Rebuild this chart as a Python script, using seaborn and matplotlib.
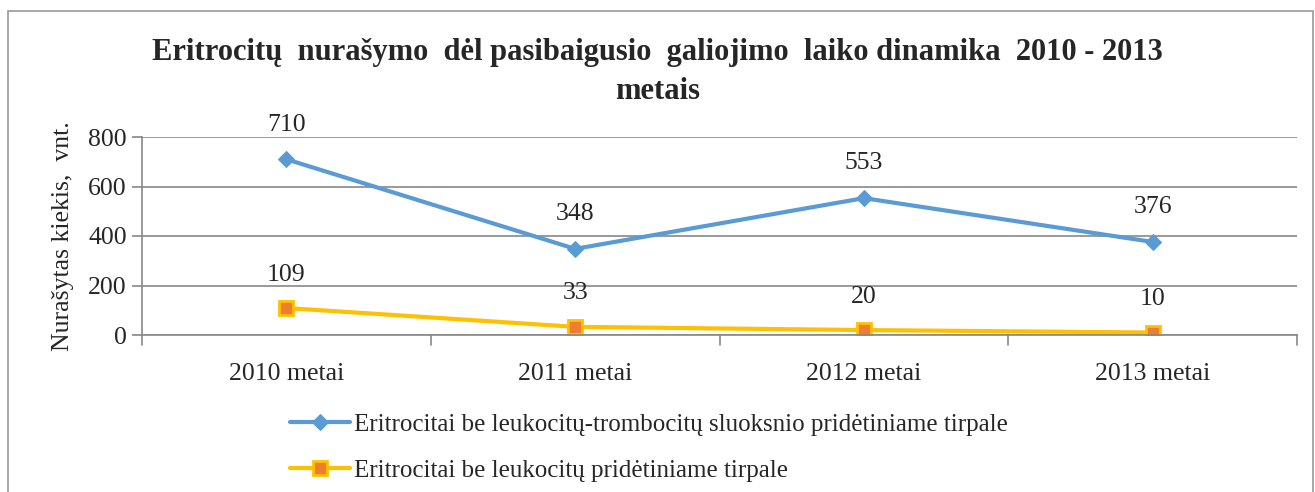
import matplotlib
matplotlib.use("Agg")
import matplotlib.pyplot as plt
import seaborn as sns
import pandas as pd
from matplotlib.patches import Rectangle

categories = ["2010 metai", "2011 metai", "2012 metai", "2013 metai"]
series1_name = "Eritrocitai be leukocitų-trombocitų sluoksnio pridėtiniame tirpale"
series2_name = "Eritrocitai be leukocitų pridėtiniame tirpale"
series1 = [710, 348, 553, 376]
series2 = [109, 33, 20, 10]
yticks = [0, 200, 400, 600, 800]
title = "Eritrocitų  nurašymo  dėl pasibaigusio  galiojimo  laiko dinamika  2010 - 2013\nmetais"
ylabel = "Nurašytas kiekis,  vnt."

sns.set_theme(style="white")
plt.rcParams['font.family'] = ['Liberation Serif', 'DejaVu Serif']

df = pd.DataFrame({
    "x": list(range(len(categories))) * 2,
    "value": series1 + series2,
    "series": [series1_name] * 4 + [series2_name] * 4,
})

fig = plt.figure(figsize=(13.15, 4.92), dpi=100)
ax = fig.add_axes([142/1315, 1 - 335/492, (1297-142)/1315, (335-137)/492])

blue = "#5B9BD5"
yellow = "#FFC000"
orange = "#ED7D31"
fs = 18.5

sns.lineplot(data=df[df.series == series1_name], x="x", y="value", ax=ax,
             color=blue, lw=3, marker="D", markersize=8, markeredgecolor=blue,
             label=series1_name)
sns.lineplot(data=df[df.series == series2_name], x="x", y="value", ax=ax,
             color=yellow, lw=3, marker="s", markersize=10, markerfacecolor=orange,
             markeredgecolor=yellow, markeredgewidth=2, label=series2_name)

for i, v in enumerate(series1):
    ax.annotate(str(v), (i, v), xytext=(0, 25), textcoords="offset points",
                ha="center", va="center", fontsize=fs)
for i, v in enumerate(series2):
    ax.annotate(str(v), (i, v), xytext=(0, 24), textcoords="offset points",
                ha="center", va="center", fontsize=fs)

ax.set_xlim(-0.5, 3.5)
ax.set_ylim(0, 800)
ax.set_yticks(yticks)
ax.set_yticklabels([str(t) for t in yticks], fontsize=fs)
ax.set_xticks(range(len(categories)))
ax.set_xticklabels(categories, fontsize=fs)
ax.tick_params(axis="x", length=0, pad=20)
ax.tick_params(axis="y", length=7, width=1.2, color="#888888", left=True, pad=4)
for b in [-0.5, 0.5, 1.5, 2.5, 3.5]:
    ax.plot([b, b], [0, -0.05], transform=ax.get_xaxis_transform(), color="#888888",
            lw=1.2, clip_on=False)
ax.grid(axis="y", color="#888888", lw=1.2)
ax.set_axisbelow(True)
for s in ["top", "right"]:
    ax.spines[s].set_visible(False)
ax.spines["left"].set_color("#888888")
ax.spines["left"].set_linewidth(1.2)
ax.spines["bottom"].set_color("#888888")
ax.spines["bottom"].set_linewidth(1.2)
ax.set_xlabel("")
ax.set_ylabel(ylabel, fontsize=fs, labelpad=10)

fig.text(0.5, 1 - 38/492, title, ha="center", va="top", fontsize=22,
         fontweight="bold", linespacing=1.45)

leg = ax.legend(loc="upper left", bbox_to_anchor=(290/1315, 1 - 413/492),
                bbox_transform=fig.transFigure, frameon=False, fontsize=18,
                handlelength=2.4, labelspacing=0.95, handletextpad=0.15,
                borderpad=0, borderaxespad=0)

fig.patches.append(Rectangle((8/1315, -0.1), (1313-8)/1315, 1.1 - 11/492,
                             transform=fig.transFigure, fill=False,
                             edgecolor="#999999", lw=1.2))

fig.savefig("out.png", dpi=100)
